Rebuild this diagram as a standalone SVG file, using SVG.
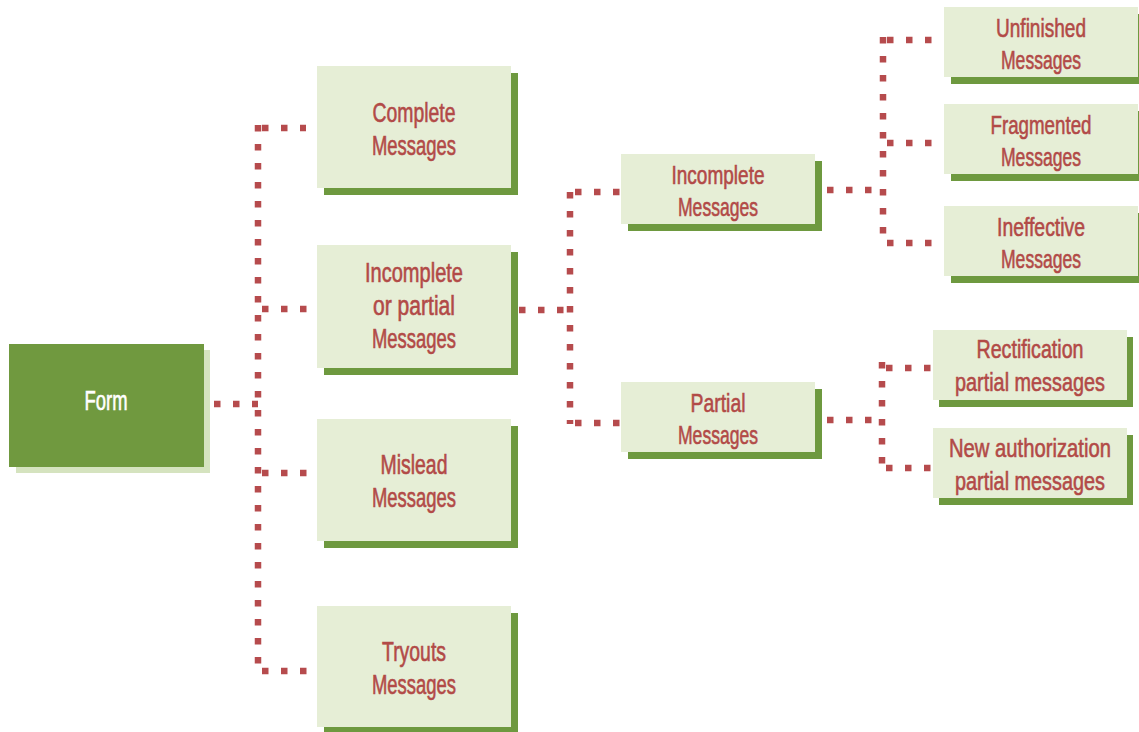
<svg xmlns="http://www.w3.org/2000/svg" width="1139" height="732" viewBox="0 0 1139 732">
<style>
.box{fill:#e6eed6}
.sh{fill:#6e993f}
.t{font-family:"Liberation Sans",Arial,sans-serif;font-size:27px;fill:#b24a47;stroke:#b24a47;stroke-width:0.6px;text-anchor:middle}
.t2{font-family:"Liberation Sans",Arial,sans-serif;font-size:26px;fill:#b24a47;stroke:#b24a47;stroke-width:0.6px;text-anchor:middle}
.w{fill:#ffffff;stroke:#ffffff}
.dot{fill:none;stroke:#b64b4d;stroke-width:6.5;stroke-dasharray:6.5 12.5}
</style>
<rect width="1139" height="732" fill="#ffffff"/>
<g id="connectors">
  <line class="dot" x1="214" y1="404" x2="258" y2="404"/>
  <line class="dot" x1="258" y1="125" x2="258" y2="675"/>
  <line class="dot" x1="262" y1="128" x2="306" y2="128"/>
  <line class="dot" x1="262" y1="309" x2="311" y2="309"/>
  <line class="dot" x1="262" y1="473" x2="311" y2="473"/>
  <line class="dot" x1="262" y1="671" x2="311" y2="671"/>
  <line class="dot" x1="519" y1="310" x2="566" y2="310"/>
  <line class="dot" x1="570" y1="192" x2="570" y2="424"/>
  <line class="dot" x1="575" y1="192" x2="620" y2="192"/>
  <line class="dot" x1="575" y1="423" x2="620" y2="423"/>
  <line class="dot" x1="827" y1="190" x2="874" y2="190"/>
  <line class="dot" x1="883" y1="37" x2="883" y2="246"/>
  <line class="dot" x1="887" y1="40" x2="946" y2="40"/>
  <line class="dot" x1="887" y1="143" x2="936" y2="143"/>
  <line class="dot" x1="887" y1="243" x2="946" y2="243"/>
  <line class="dot" x1="827" y1="420" x2="874" y2="420"/>
  <line class="dot" x1="882" y1="362" x2="882" y2="471"/>
  <line class="dot" x1="886" y1="368" x2="934" y2="368"/>
  <line class="dot" x1="886" y1="468" x2="934" y2="468"/>
</g>
<g id="form">
  <rect x="16" y="350" width="194" height="123" fill="#d5e3bf"/>
  <rect x="9" y="344" width="195" height="123" fill="#70993f"/>
  <text x="106" y="410" class="t w" textLength="43" lengthAdjust="spacingAndGlyphs">Form</text>
</g>
<g id="complete">
  <rect x="324" y="73" width="194" height="122" class="sh"/>
  <rect x="317" y="66" width="194" height="122" class="box"/>
  <text x="414" y="122" class="t" textLength="83" lengthAdjust="spacingAndGlyphs">Complete</text>
  <text x="414" y="155" class="t" textLength="84" lengthAdjust="spacingAndGlyphs">Messages</text>
</g>
<g id="incomplete-or-partial">
  <rect x="324" y="252" width="194" height="123" class="sh"/>
  <rect x="317" y="245" width="194" height="123" class="box"/>
  <text x="414" y="282" class="t" textLength="98" lengthAdjust="spacingAndGlyphs">Incomplete</text>
  <text x="414" y="315" class="t" textLength="82" lengthAdjust="spacingAndGlyphs">or partial</text>
  <text x="414" y="348" class="t" textLength="84" lengthAdjust="spacingAndGlyphs">Messages</text>
</g>
<g id="mislead">
  <rect x="324" y="426" width="194" height="122" class="sh"/>
  <rect x="317" y="419" width="194" height="122" class="box"/>
  <text x="414" y="474" class="t" textLength="67" lengthAdjust="spacingAndGlyphs">Mislead</text>
  <text x="414" y="507" class="t" textLength="84" lengthAdjust="spacingAndGlyphs">Messages</text>
</g>
<g id="tryouts">
  <rect x="324" y="613" width="194" height="121" class="sh"/>
  <rect x="317" y="606" width="194" height="121" class="box"/>
  <text x="414" y="661" class="t" textLength="64" lengthAdjust="spacingAndGlyphs">Tryouts</text>
  <text x="414" y="694" class="t" textLength="84" lengthAdjust="spacingAndGlyphs">Messages</text>
</g>
<g id="incomplete">
  <rect x="628" y="161" width="194" height="70" class="sh"/>
  <rect x="621" y="154" width="194" height="70" class="box"/>
  <text x="718" y="184" class="t2" textLength="93" lengthAdjust="spacingAndGlyphs">Incomplete</text>
  <text x="718" y="216" class="t2" textLength="80" lengthAdjust="spacingAndGlyphs">Messages</text>
</g>
<g id="partial">
  <rect x="628" y="389" width="194" height="70" class="sh"/>
  <rect x="621" y="382" width="194" height="70" class="box"/>
  <text x="718" y="412" class="t2" textLength="55" lengthAdjust="spacingAndGlyphs">Partial</text>
  <text x="718" y="444" class="t2" textLength="80" lengthAdjust="spacingAndGlyphs">Messages</text>
</g>
<g id="unfinished">
  <rect x="951" y="14" width="194" height="70" class="sh"/>
  <rect x="944" y="7" width="194" height="70" class="box"/>
  <text x="1041" y="37" class="t2" textLength="90" lengthAdjust="spacingAndGlyphs">Unfinished</text>
  <text x="1041" y="69" class="t2" textLength="80" lengthAdjust="spacingAndGlyphs">Messages</text>
</g>
<g id="fragmented">
  <rect x="951" y="111" width="194" height="70" class="sh"/>
  <rect x="944" y="104" width="194" height="70" class="box"/>
  <text x="1041" y="134" class="t2" textLength="101" lengthAdjust="spacingAndGlyphs">Fragmented</text>
  <text x="1041" y="166" class="t2" textLength="80" lengthAdjust="spacingAndGlyphs">Messages</text>
</g>
<g id="ineffective">
  <rect x="951" y="213" width="194" height="70" class="sh"/>
  <rect x="944" y="206" width="194" height="70" class="box"/>
  <text x="1041" y="236" class="t2" textLength="88" lengthAdjust="spacingAndGlyphs">Ineffective</text>
  <text x="1041" y="268" class="t2" textLength="80" lengthAdjust="spacingAndGlyphs">Messages</text>
</g>
<g id="rectification">
  <rect x="939" y="337" width="194" height="70" class="sh"/>
  <rect x="933" y="330" width="194" height="70" class="box"/>
  <text x="1030" y="358" class="t2" textLength="107" lengthAdjust="spacingAndGlyphs">Rectification</text>
  <text x="1030" y="391" class="t2" textLength="150" lengthAdjust="spacingAndGlyphs">partial messages</text>
</g>
<g id="new-authorization">
  <rect x="939" y="435" width="194" height="70" class="sh"/>
  <rect x="933" y="428" width="194" height="70" class="box"/>
  <text x="1030" y="457" class="t2" textLength="162" lengthAdjust="spacingAndGlyphs">New authorization</text>
  <text x="1030" y="490" class="t2" textLength="150" lengthAdjust="spacingAndGlyphs">partial messages</text>
</g>
</svg>
